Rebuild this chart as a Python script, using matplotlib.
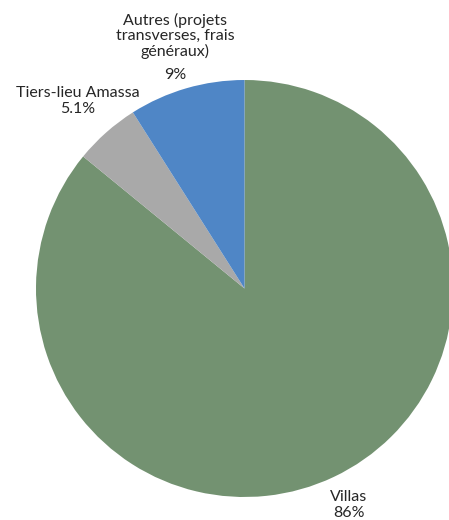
import matplotlib
matplotlib.use("Agg")
import matplotlib.pyplot as plt
import numpy as np

categories = ["Villas", "Tiers-lieu Amassa", "Autres (projets\ntransverses, frais\ngénéraux)"]
values = [86, 5.1, 9]
pct_labels = ["86%", "5.1%", "9%"]
colors = ["#739271", "#a9a9a9", "#4f86c6"]

plt.rcParams['font.family'] = ['Lato', 'DejaVu Sans']

W, H = 449, 520
fig = plt.figure(figsize=(W / 100, H / 100), dpi=100)
ax = fig.add_axes([0, 0, 1, 1])
R = 208.5
cx, cy = 244.5, 288.5


def px(x, y):
    return (x - cx) / R, (cy - y) / R


wedges, _ = ax.pie(values, colors=colors, startangle=90, counterclock=False,
                   radius=1.0, center=(0, 0), frame=True,
                   wedgeprops=dict(linewidth=0))
ax.set_xlim((0 - cx) / R, (W - cx) / R)
ax.set_ylim((cy - H) / R, (cy - 0) / R)
ax.set_aspect('equal')
ax.axis('off')

fs = 11.5
tc = '#262626'
ls = 1.1
# Villas
x, y = px(349, 505)
ax.text(x, y, categories[0] + "\n" + pct_labels[0], ha='center', va='center',
        fontsize=fs, color=tc, linespacing=ls)
# Tiers-lieu
x, y = px(78, 101)
ax.text(x, y, categories[1] + "\n" + pct_labels[1], ha='center', va='center',
        fontsize=fs, color=tc, linespacing=ls)
# Autres
x, y = px(175, 36)
ax.text(x, y, categories[2], ha='center', va='center', fontsize=fs, color=tc,
        linespacing=ls)
x, y = px(175, 75)
ax.text(x, y, pct_labels[2], ha='center', va='center', fontsize=fs, color=tc)

fig.savefig("out.png", dpi=100)
